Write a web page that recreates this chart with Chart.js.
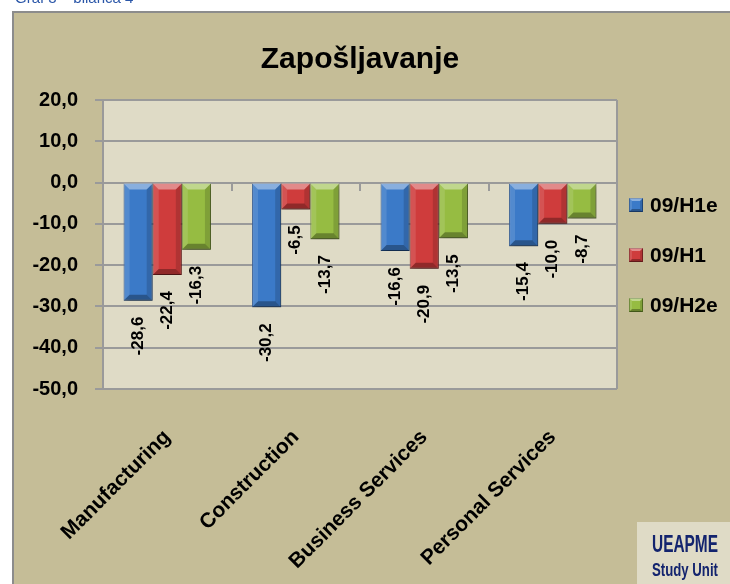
<!DOCTYPE html>
<html>
<head>
<meta charset="utf-8">
<script src="https://cdn.jsdelivr.net/npm/chart.js@4/dist/chart.umd.min.js"></script>
<style>
html,body{margin:0;padding:0;background:#fff;}
canvas{display:block;}
</style>
</head>
<body>
<canvas id="c" width="730" height="584"></canvas>
<script>
// ---- data ----
const categories = ['Manufacturing', 'Construction', 'Business Services', 'Personal Services'];
const seriesNames = ['09/H1e', '09/H1', '09/H2e'];
const h1e = [-28.6, -30.2, -16.6, -15.4];
const h1  = [-22.4, -6.5, -20.9, -10.0];
const h2e = [-16.3, -13.7, -13.5, -8.7];
const yMin = -50, yMax = 20, yStep = 10;
const titleText = 'Zapošljavanje';
const captionText = 'Graf 3 – bilanca 4';
const logoLines = ['UEAPME', 'Study Unit'];

const FONT = '"Liberation Sans", Arial, sans-serif';
const fmt = v => Number(v).toFixed(1).replace('.', ',');

const fills = ['#3b7ac8', '#cf3c3c', '#96bc42'];
const edges = ['#22508e', '#8a2424', '#5e7d24'];

function bevel(ctx, l, t, r, b, bv) {
  const poly = (pts, col) => {
    ctx.beginPath();
    ctx.moveTo(pts[0][0], pts[0][1]);
    for (let i = 1; i < pts.length; i++) ctx.lineTo(pts[i][0], pts[i][1]);
    ctx.closePath();
    ctx.fillStyle = col;
    ctx.fill();
  };
  poly([[l, t], [r, t], [r - bv, t + bv], [l + bv, t + bv]], 'rgba(255,255,255,0.40)');
  poly([[l, t], [l + bv, t + bv], [l + bv, b - bv], [l, b]], 'rgba(255,255,255,0.12)');
  poly([[r, t], [r - bv, t + bv], [r - bv, b - bv], [r, b]], 'rgba(0,0,0,0.15)');
  poly([[l, b], [l + bv, b - bv], [r - bv, b - bv], [r, b]], 'rgba(0,0,0,0.30)');
}

const framePlugin = {
  id: 'frame',
  beforeDraw(chart) {
    const ctx = chart.ctx, W = chart.width, H = chart.height;
    ctx.save();
    ctx.fillStyle = '#ffffff';
    ctx.fillRect(0, 0, W, H);
    ctx.fillStyle = '#2a56a8';
    ctx.font = '15px ' + FONT;
    ctx.textBaseline = 'alphabetic';
    ctx.fillText(captionText, 15, 3);
    ctx.fillStyle = '#8c8c8c';
    ctx.fillRect(12, 11, W - 12, H - 11);
    ctx.fillStyle = '#c5bd97';
    ctx.fillRect(14, 13, W - 14, H - 13);
    const a = chart.chartArea;
    ctx.fillStyle = '#dfdbc6';
    ctx.fillRect(a.left, a.top, a.right - a.left, a.bottom - a.top);
    ctx.restore();
  },
  beforeDatasetsDraw(chart) {
    const ctx = chart.ctx, a = chart.chartArea;
    ctx.save();
    ctx.strokeStyle = '#9a9a9a';
    ctx.lineWidth = 2;
    ctx.beginPath();
    ctx.moveTo(a.right, a.top);
    ctx.lineTo(a.right, a.bottom);
    ctx.stroke();
    ctx.restore();
  },
  beforeDatasetDraw(chart) {
    const ctx = chart.ctx;
    ctx.save();
    ctx.shadowColor = 'rgba(0,0,0,0.28)';
    ctx.shadowBlur = 5;
    ctx.shadowOffsetX = 2;
    ctx.shadowOffsetY = 3;
  },
  afterDatasetDraw(chart, args) {
    const ctx = chart.ctx;
    ctx.restore();
    ctx.save();
    args.meta.data.forEach(el => {
      const p = el.getProps(['x', 'y', 'base', 'width'], true);
      const l = p.x - p.width / 2, r = p.x + p.width / 2;
      const t = Math.min(p.y, p.base), b = Math.max(p.y, p.base);
      bevel(ctx, l, t, r, b, Math.min(6, (b - t) / 2));
    });
    ctx.restore();
  },
  afterDatasetsDraw(chart) {
    const ctx = chart.ctx;
    ctx.save();
    ctx.fillStyle = '#000';
    ctx.font = 'bold 17px ' + FONT;
    ctx.textAlign = 'right';
    ctx.textBaseline = 'middle';
    chart.data.datasets.forEach((ds, di) => {
      const meta = chart.getDatasetMeta(di);
      meta.data.forEach((el, i) => {
        const p = el.getProps(['x', 'y'], true);
        ctx.save();
        ctx.translate(p.x, p.y + 16);
        ctx.rotate(-Math.PI / 2);
        ctx.fillText(fmt(ds.data[i]), 0, 0);
        ctx.restore();
      });
    });
    ctx.restore();
  },
  afterDraw(chart) {
    const ctx = chart.ctx, W = chart.width, H = chart.height, a = chart.chartArea;
    ctx.save();
    // legend
    const midY = (a.top + a.bottom) / 2 + 10.5;
    const bx = a.right + 12;
    chart.data.datasets.forEach((ds, i) => {
      const cy = midY + (i - 1) * 50;
      ctx.fillStyle = ds.backgroundColor;
      ctx.fillRect(bx, cy - 7, 14, 14);
      ctx.strokeStyle = ds.borderColor;
      ctx.lineWidth = 1;
      ctx.strokeRect(bx + 0.5, cy - 6.5, 13, 13);
      bevel(ctx, bx, cy - 7, bx + 14, cy + 7, 3);
      ctx.fillStyle = '#000';
      ctx.font = 'bold 21px ' + FONT;
      ctx.textAlign = 'left';
      ctx.textBaseline = 'middle';
      ctx.fillText(ds.label, bx + 21, cy + 1);
    });
    // logo
    ctx.fillStyle = '#dfdbc6';
    ctx.fillRect(637, 522, W - 637, H - 522);
    ctx.fillStyle = '#13246e';
    ctx.textBaseline = 'alphabetic';
    ctx.textAlign = 'left';
    const drawFit = (txt, size, x, y, w) => {
      ctx.font = 'bold ' + size + 'px "Liberation Sans Narrow", ' + FONT;
      const m = ctx.measureText(txt).width;
      ctx.save();
      ctx.translate(x, y);
      ctx.scale(w / m, 1);
      ctx.fillText(txt, 0, 0);
      ctx.restore();
    };
    drawFit(logoLines[0], 23, 652, 552, 66);
    drawFit(logoLines[1], 19, 652, 576, 66);
    ctx.restore();
  }
};

const mk = (i, data) => ({
  label: seriesNames[i],
  data: data,
  backgroundColor: fills[i],
  borderColor: edges[i],
  borderWidth: 1,
  barPercentage: 1.0,
  categoryPercentage: 0.68
});

new Chart(document.getElementById('c'), {
  type: 'bar',
  data: {
    labels: categories,
    datasets: [mk(0, h1e), mk(1, h1), mk(2, h2e)]
  },
  plugins: [framePlugin],
  options: {
    responsive: false,
    animation: false,
    devicePixelRatio: 1,
    layout: { padding: { left: 14, top: 12, right: 113, bottom: 0 } },
    plugins: {
      title: {
        display: true,
        fullSize: false,
        text: titleText,
        color: '#000',
        font: { family: FONT, size: 30, weight: 'bold' },
        padding: { top: 30, bottom: 22 }
      },
      legend: { display: false },
      tooltip: { enabled: false }
    },
    scales: {
      x: {
        type: 'category',
        position: 'bottom',
        grid: { display: false, drawOnChartArea: false, drawTicks: false },
        border: { display: false },
        ticks: {
          color: '#000',
          font: { family: FONT, size: 21, weight: 'bold' },
          minRotation: 45,
          maxRotation: 45,
          padding: 36,
          autoSkip: false
        },
        afterFit(s) { s.height = 584 - 389; }
      },
      x0: {
        type: 'category',
        position: { y: 0 },
        grid: { display: true, drawOnChartArea: false, drawTicks: true, tickLength: 8, color: '#9a9a9a', lineWidth: 2, offset: true },
        border: { display: false },
        ticks: { display: false }
      },
      y: {
        min: yMin,
        max: yMax,
        ticks: {
          stepSize: yStep,
          color: '#000',
          font: { family: FONT, size: 20, weight: 'bold' },
          padding: 17,
          callback: v => fmt(v)
        },
        grid: { color: '#9a9a9a', lineWidth: 2, tickLength: 8 },
        border: { display: true, color: '#9a9a9a', width: 2 },
        afterFit(s) { s.width = 103 - 14; }
      }
    }
  }
});
</script>
</body>
</html>
